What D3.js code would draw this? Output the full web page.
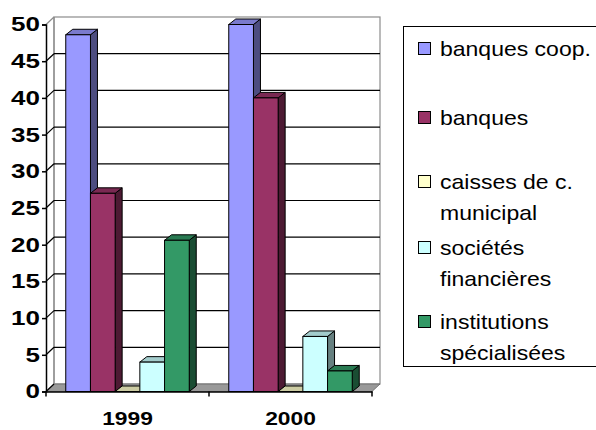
<!DOCTYPE html>
<html>
<head>
<meta charset="utf-8">
<script src="https://cdn.jsdelivr.net/npm/d3@7"></script>
<style>
  body { margin: 0; background: #fff; }
  text { font-family: "Liberation Sans", Arial, sans-serif; }
</style>
</head>
<body>
<div id="chart"></div>
<script>
// data
var years = ['1999', '2000'];
var seriesNames = ['banques coop.', 'banques', 'caisses de c. municipal', 'sociétés financières', 'institutions spécialisées'];
var legendLines = [['banques coop.'], ['banques'], ['caisses de c.', 'municipal'], ['sociétés', 'financières'], ['institutions', 'spécialisées']];
var valuesBanquesCoop = [48.6, 50];
var valuesBanques = [27, 40];
var valuesCaisses = [0, 0];
var valuesSocietes = [4, 7.5];
var valuesInstitutions = [20.6, 2.8];
var yTicks = [0, 5, 10, 15, 20, 25, 30, 35, 40, 45, 50];

var allValues = [valuesBanquesCoop, valuesBanques, valuesCaisses, valuesSocietes, valuesInstitutions];
var fronts = ['#9999ff', '#993366', '#ffffcc', '#ccffff', '#339966'];
var tops = ['#7a7acc', '#7a2952', '#cccca3', '#a3cccc', '#297a52'];
var sides = ['#4d4d80', '#4d1a33', '#808066', '#668080', '#1a4d33'];

var width = 596, height = 430;
var wallDx = 8, wallDy = -7.5;   // depth of the back wall
var barDx = 7, barDy = -5.5;     // depth of each bar
var stretch = 1.2;               // the original text is drawn a bit wide

var svg = d3.select('#chart').append('svg')
    .attr('width', width)
    .attr('height', height);

var x = d3.scaleBand().domain(years).range([46, 372]).padding(0);
var xs = d3.scaleBand().domain(d3.range(seriesNames.length))
    .range([0, x.bandwidth()]).paddingInner(0).paddingOuter(0.8);
var y = d3.scaleLinear().domain([0, 50]).range([391.5, 24.5]);

var x0 = x.range()[0], x1 = x.range()[1];

// back wall
svg.append('rect')
    .attr('x', x0 + wallDx).attr('y', y(50) + wallDy)
    .attr('width', x1 - x0).attr('height', y(0) - y(50))
    .attr('fill', '#fff').attr('stroke', '#8c8c8c').attr('stroke-width', 1.2);

// floor
svg.append('path')
    .attr('d', 'M' + x0 + ',' + y(0) + 'L' + x1 + ',' + y(0) + 'L' + (x1 + wallDx) + ',' + (y(0) + wallDy) +
        'L' + (x0 + wallDx) + ',' + (y(0) + wallDy) + 'Z')
    .attr('fill', '#999').attr('stroke', '#666').attr('stroke-width', 0.8);

// side wall edge
svg.append('line')
    .attr('x1', x0 + wallDx).attr('x2', x0 + wallDx)
    .attr('y1', y(50) + wallDy).attr('y2', y(0) + wallDy)
    .attr('stroke', '#8c8c8c').attr('stroke-width', 1.2);

// gridlines on back wall and side wall
yTicks.forEach(function(t) {
    if (t > 0 && t < 50) {
        svg.append('line')
            .attr('x1', x0 + wallDx).attr('x2', x1 + wallDx)
            .attr('y1', y(t) + wallDy).attr('y2', y(t) + wallDy)
            .attr('stroke', '#000').attr('stroke-width', 1.2);
    }
    svg.append('line')
        .attr('x1', x0).attr('x2', x0 + wallDx)
        .attr('y1', y(t)).attr('y2', y(t) + wallDy)
        .attr('stroke', t == 50 ? '#8c8c8c' : '#000').attr('stroke-width', 1.2);
});

// bars
years.forEach(function(yr, i) {
    allValues.forEach(function(vals, s) {
        var bx = x(yr) + xs(s), bw = xs.bandwidth();
        var by = y(vals[i]), bb = y(0);
        var g = svg.append('g');
        // side
        g.append('path')
            .attr('d', 'M' + (bx + bw) + ',' + by + 'L' + (bx + bw + barDx) + ',' + (by + barDy) +
                'L' + (bx + bw + barDx) + ',' + (bb + barDy) + 'L' + (bx + bw) + ',' + bb + 'Z')
            .attr('fill', sides[s]).attr('stroke', '#000').attr('stroke-width', 1);
        // top
        g.append('path')
            .attr('d', 'M' + bx + ',' + by + 'L' + (bx + barDx) + ',' + (by + barDy) +
                'L' + (bx + bw + barDx) + ',' + (by + barDy) + 'L' + (bx + bw) + ',' + by + 'Z')
            .attr('fill', tops[s]).attr('stroke', '#000').attr('stroke-width', 1);
        // front
        if (vals[i] > 0) {
            g.append('rect')
                .attr('x', bx).attr('y', by)
                .attr('width', bw).attr('height', bb - by)
                .attr('fill', fronts[s]).attr('stroke', '#000').attr('stroke-width', 1);
        }
    });
});

// value axis
var yAxis = svg.append('g')
    .attr('transform', 'translate(' + x0 + ',0)')
    .call(d3.axisLeft(y).tickValues(yTicks).tickSize(4).tickPadding(4));
yAxis.select('.domain').attr('stroke', '#000').attr('stroke-width', 1.5);
yAxis.selectAll('.tick line').attr('stroke', '#000').attr('stroke-width', 1.5);
yAxis.selectAll('.tick text')
    .attr('font-size', 20).attr('font-weight', 'bold').attr('fill', '#000')
    .attr('font-family', '"Liberation Sans", Arial, sans-serif')
    .attr('x', -6 / 1.3)
    .attr('transform', 'scale(1.3,1)');

// category axis
var xAxis = svg.append('g')
    .attr('transform', 'translate(0,' + y(0) + ')')
    .call(d3.axisBottom(x).tickSize(0));
xAxis.select('.domain').attr('stroke', '#000').attr('stroke-width', 1.5);
xAxis.selectAll('.tick text')
    .attr('font-size', 19).attr('font-weight', 'bold').attr('fill', '#000')
    .attr('font-family', '"Liberation Sans", Arial, sans-serif')
    .attr('y', 34).attr('dy', 0)
    .attr('transform', 'scale(' + stretch + ',1)');
[x0, x0 + x.bandwidth(), x1].forEach(function(px) {
    svg.append('line')
        .attr('x1', px).attr('x2', px).attr('y1', y(0)).attr('y2', y(0) + 5)
        .attr('stroke', '#000').attr('stroke-width', 1.5);
});

// legend
var legend = svg.append('g');
legend.append('rect')
    .attr('x', 403.5).attr('y', 26.5).attr('width', 200).attr('height', 340)
    .attr('fill', '#fff').attr('stroke', '#000').attr('stroke-width', 1);
var legendY = [49, 118, 182, 248, 322];
legendLines.forEach(function(lines, s) {
    legend.append('rect')
        .attr('x', 418.5).attr('y', legendY[s] - 6.5).attr('width', 12).attr('height', 12)
        .attr('fill', fronts[s]).attr('stroke', '#000').attr('stroke-width', 1);
    lines.forEach(function(line, k) {
        legend.append('text')
            .attr('transform', 'translate(440,' + (legendY[s] + k * 31) + ') scale(1.15,1)')
            .attr('dy', '0.35em')
            .attr('font-size', 20)
            .text(line);
    });
});
</script>
</body>
</html>
